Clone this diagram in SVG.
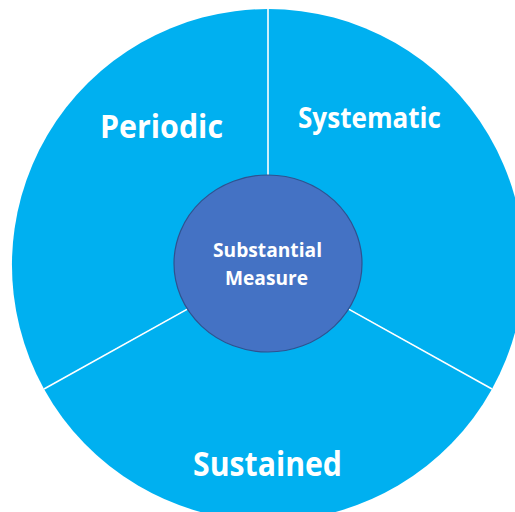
<svg xmlns="http://www.w3.org/2000/svg" width="515" height="512" viewBox="0 0 515 512">
  <style>
    .sector { fill: #00B0F0; stroke: none; }
    .label { fill: #FFFFFF; font-family: "Open Sans", "Liberation Sans", sans-serif; font-weight: bold; text-anchor: middle; }
    .divider { stroke: #FFFFFF; stroke-width: 1.6; fill: none; }
    .hub { fill: #4472C4; stroke: #2F528F; stroke-width: 1.2; }
  </style>
  <rect width="515" height="512" fill="#FFFFFF"/>

  <!-- outer ring, split into three sectors -->
  <g id="periodic">
    <path class="sector" d="M268,263.5 L268,9 A256,256 0 0,0 44,389 Z"/>
    <text class="label" x="161.5" y="138" font-size="32" textLength="123" lengthAdjust="spacingAndGlyphs">Periodic</text>
  </g>
  <g id="systematic">
    <path class="sector" d="M268,263.5 L268,9 A256,256 0 0,1 492,389 Z"/>
    <text class="label" x="369.5" y="128" font-size="29" textLength="143" lengthAdjust="spacingAndGlyphs">Systematic</text>
  </g>
  <g id="sustained">
    <path class="sector" d="M268,263.5 L44,389 A256,256 0 0,0 492,389 Z"/>
    <text class="label" x="267.5" y="475.5" font-size="34" textLength="149" lengthAdjust="spacingAndGlyphs">Sustained</text>
  </g>

  <!-- white dividers between sectors -->
  <g id="connectors">
    <line class="divider" x1="268" y1="9" x2="268" y2="176"/>
    <line class="divider" x1="44" y1="389" x2="187.4" y2="309.1"/>
    <line class="divider" x1="492" y1="389" x2="348.6" y2="309.1"/>
  </g>

  <!-- central hub -->
  <g id="substantial-measure">
    <ellipse class="hub" cx="268" cy="263.5" rx="94" ry="88.5"/>
    <text class="label" x="267.5" y="257" font-size="20" textLength="109" lengthAdjust="spacingAndGlyphs">Substantial</text>
    <text class="label" x="266.5" y="285" font-size="20" textLength="83" lengthAdjust="spacingAndGlyphs">Measure</text>
  </g>
</svg>
